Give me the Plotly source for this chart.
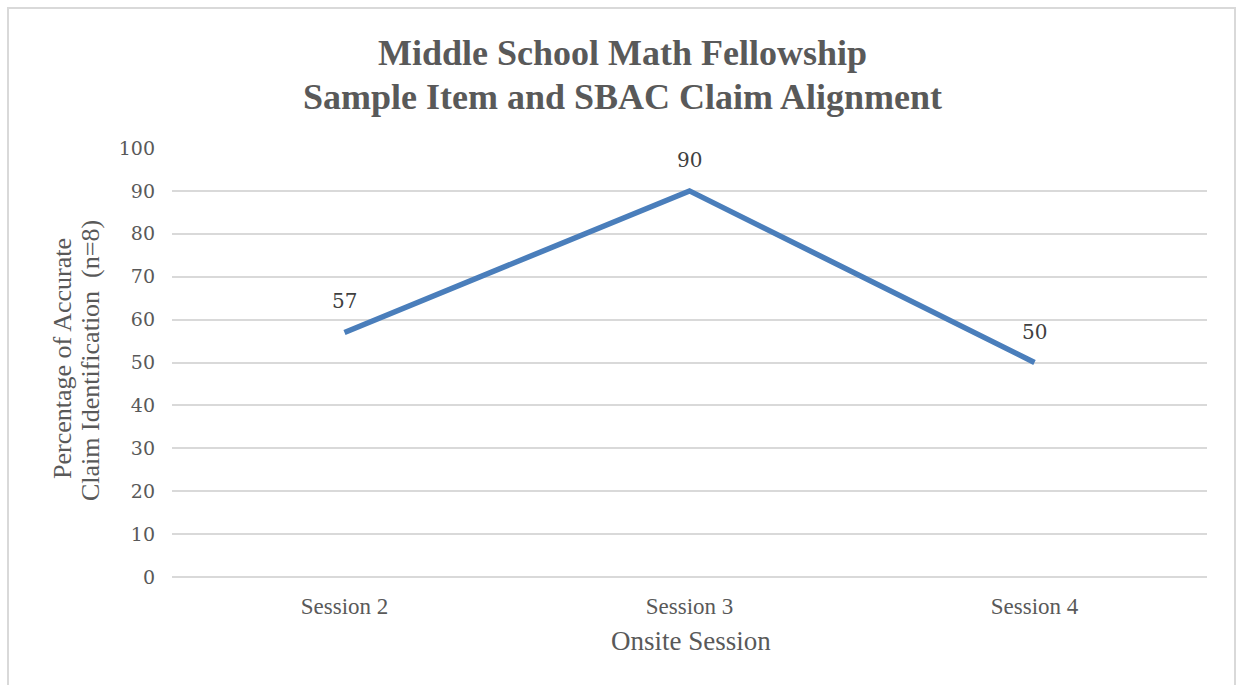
import plotly.graph_objects as go

sessions = ["Session 2", "Session 3", "Session 4"]
values = [57, 90, 50]
y_ticks = list(range(0, 101, 10))

title_line_1 = "Middle School Math Fellowship"
title_line_2 = "Sample Item and SBAC Claim Alignment"
y_title_1 = "Percentage of Accurate"
y_title_2 = "Claim Identification  (n=8)"
x_title = "Onsite Session"

W, H = 1236, 685
ML, MR, MT, MB = 172, 29, 148, 108
PW, PH = W - ML - MR, H - MT - MB

def px(x):
    return (x - ML) / PW

def py(y):
    return (H - MB - y) / PH

fig = go.Figure()
fig.add_trace(go.Scatter(
    x=sessions, y=values, mode="lines",
    line=dict(color="#4A7EBB", width=5.5),
    hoverinfo="x+y", showlegend=False,
))

annotations = []
for s, v in zip(sessions, values):
    annotations.append(dict(
        x=s, y=v, xref="x", yref="y", text=str(v), showarrow=False,
        yshift=31, font=dict(family="DejaVu Serif", size=20, color="#404040"),
    ))

title_font = dict(family="Liberation Serif", size=36, color="#595959", weight="bold")
annotations.append(dict(
    x=px(622), y=py(53), xref="paper", yref="paper", text=title_line_1,
    showarrow=False, xanchor="center", yanchor="middle", font=title_font,
))
annotations.append(dict(
    x=px(622), y=py(97), xref="paper", yref="paper", text=title_line_2,
    showarrow=False, xanchor="center", yanchor="middle", font=title_font,
))
annotations.append(dict(
    x=px(62), y=py(359), xref="paper", yref="paper", text=y_title_1,
    showarrow=False, textangle=-90, xanchor="center", yanchor="middle",
    font=dict(family="Liberation Serif", size=26, color="#595959"),
))
annotations.append(dict(
    x=px(90), y=py(361), xref="paper", yref="paper", text=y_title_2,
    showarrow=False, textangle=-90, xanchor="center", yanchor="middle",
    font=dict(family="Liberation Serif", size=26, color="#595959"),
))
annotations.append(dict(
    x=px(691), y=py(641), xref="paper", yref="paper", text=x_title,
    showarrow=False, xanchor="center", yanchor="middle",
    font=dict(family="Liberation Serif", size=27, color="#595959"),
))

fig.update_layout(
    width=W, height=H,
    margin=dict(l=ML, r=MR, t=MT, b=MB, pad=0),
    paper_bgcolor="white", plot_bgcolor="white",
    annotations=annotations,
    shapes=[dict(
        type="rect", xref="paper", yref="paper",
        x0=px(8), x1=px(1235), y0=py(692), y1=py(8),
        line=dict(color="#D9D9D9", width=2), fillcolor="rgba(0,0,0,0)", layer="below",
    )],
    xaxis=dict(
        type="category", range=[-0.5, 2.5], showgrid=False, zeroline=False,
        showline=False, ticks="", ticklabelstandoff=13,
        tickfont=dict(family="Liberation Serif", size=23, color="#595959"),
    ),
    yaxis=dict(
        range=[0, 100], tickvals=y_ticks, showgrid=True, gridcolor="#D9D9D9",
        gridwidth=1.5, zeroline=True, zerolinecolor="#D9D9D9", zerolinewidth=1.5,
        showline=False, ticks="", ticklabelstandoff=16,
        tickfont=dict(family="DejaVu Serif", size=19, color="#595959"),
    ),
)

fig.write_html("out.html")
